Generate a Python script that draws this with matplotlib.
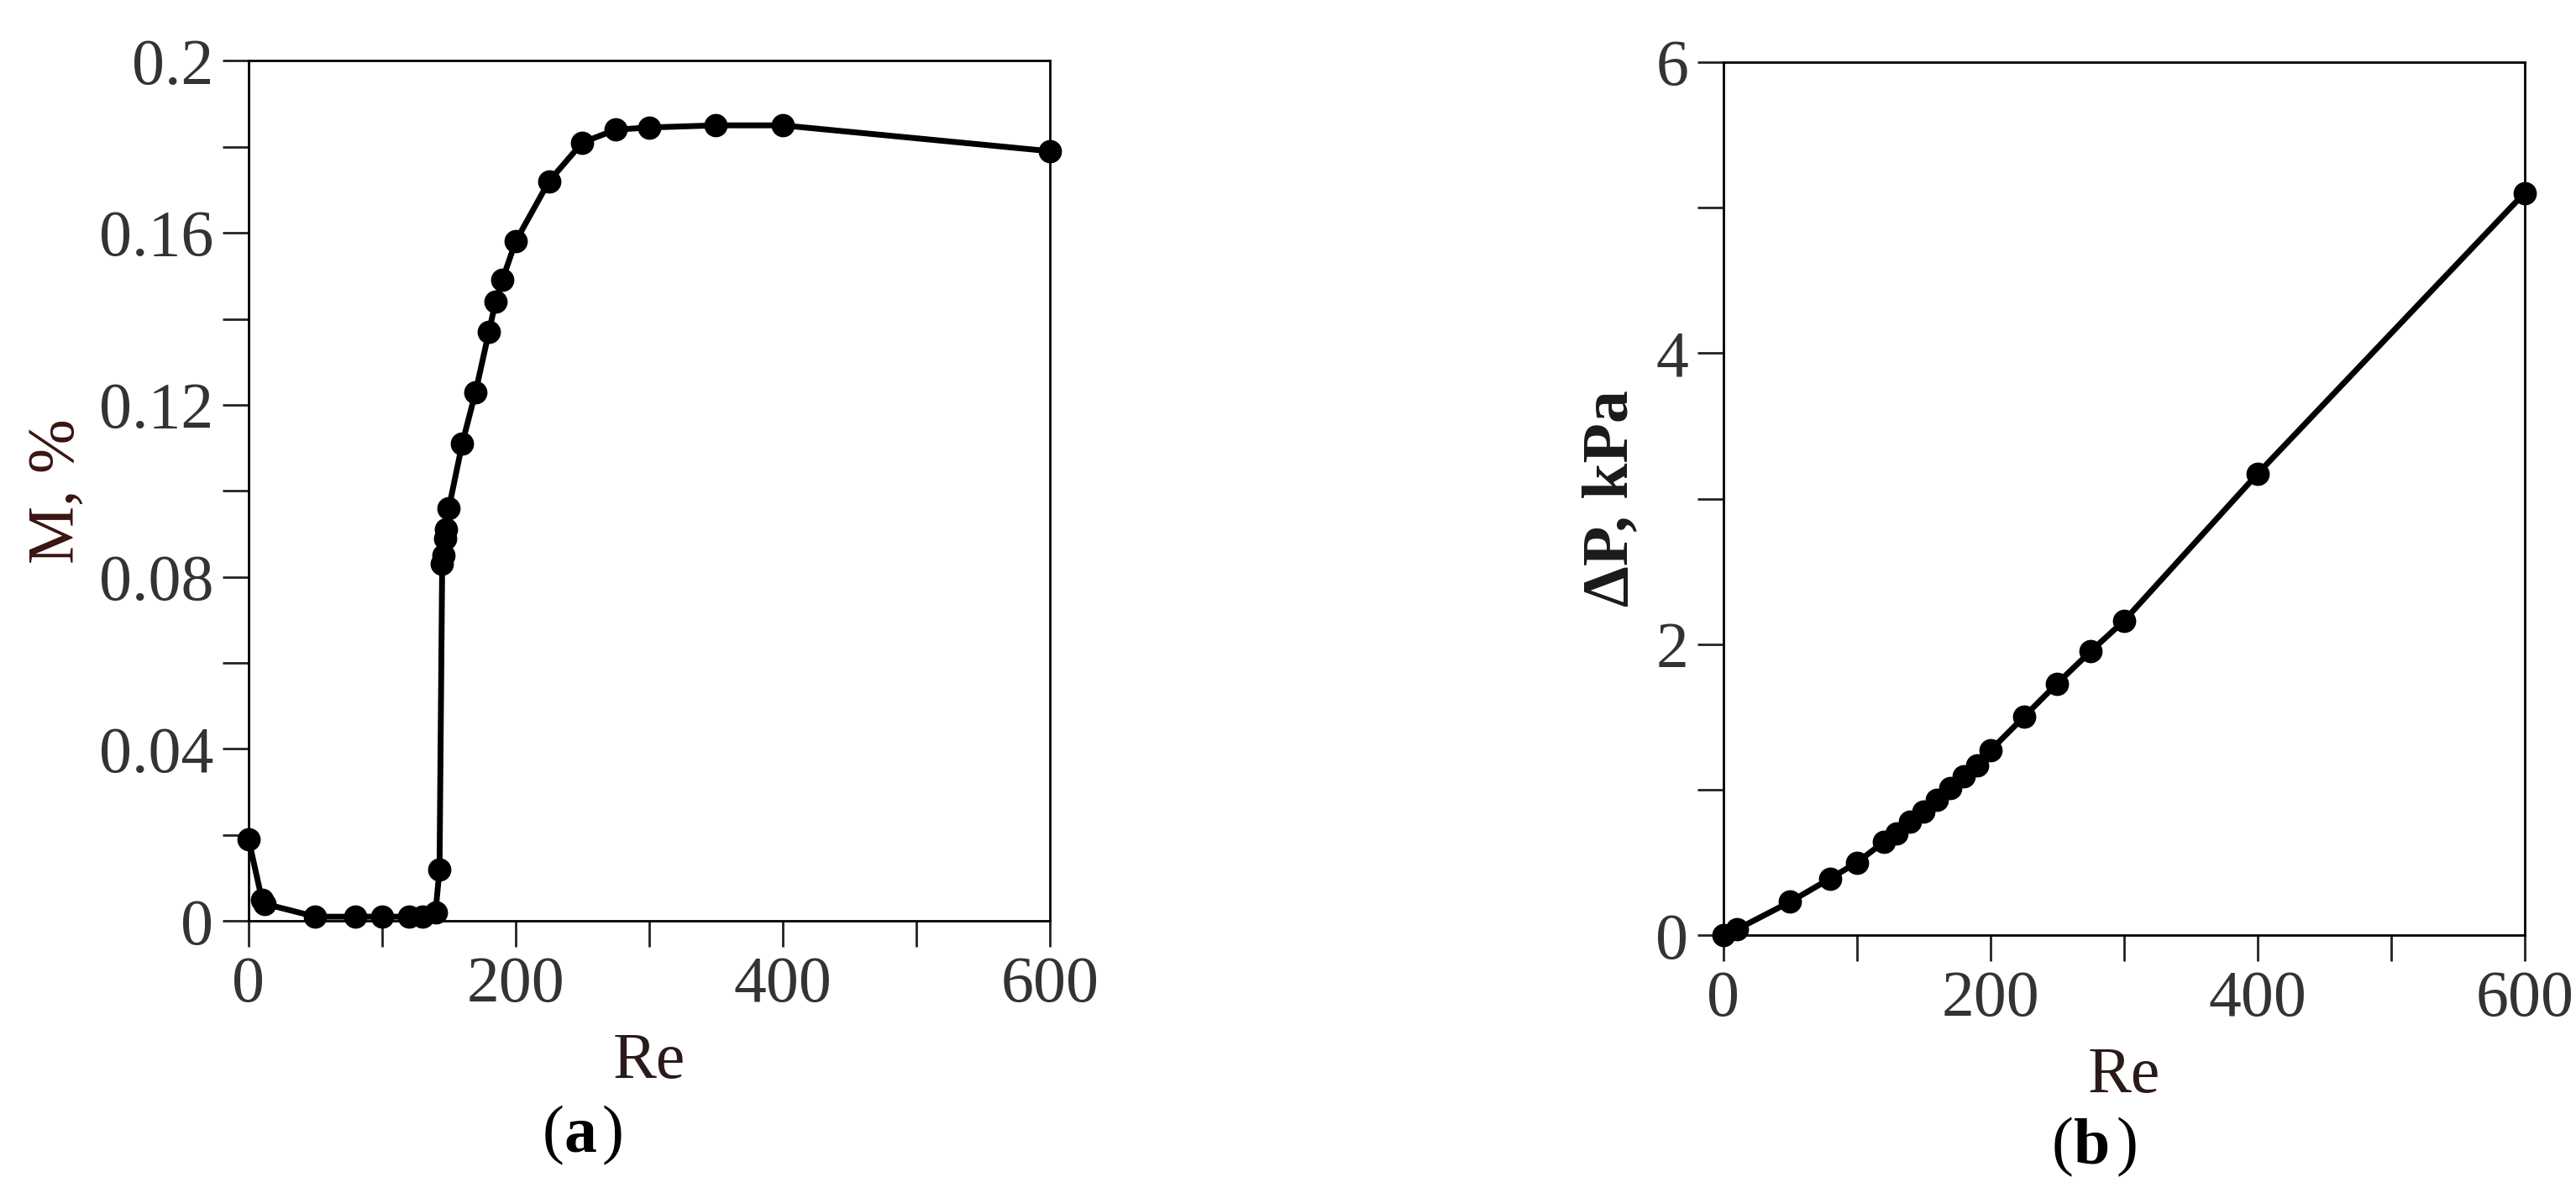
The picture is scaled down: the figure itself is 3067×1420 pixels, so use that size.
import matplotlib
matplotlib.use("Agg")
import matplotlib.pyplot as plt
from matplotlib.ticker import MultipleLocator, FuncFormatter

re_a = [0, 10, 12, 50, 80, 100, 120, 130, 140, 143, 145, 146, 147, 148, 150, 160, 170, 180, 185, 190, 200, 225, 250, 275, 300, 350, 400, 600]
m_a = [0.019, 0.005, 0.004, 0.001, 0.001, 0.001, 0.001, 0.001, 0.002, 0.012, 0.083, 0.085, 0.089, 0.091, 0.096, 0.111, 0.123, 0.137, 0.144, 0.149, 0.158, 0.172, 0.181, 0.184, 0.1845, 0.185, 0.185, 0.179]
re_b = [0, 10, 50, 80, 100, 120, 130, 140, 150, 160, 170, 180, 190, 200, 225, 250, 275, 300, 400, 600]
dp_b = [0, 0.04, 0.23, 0.39, 0.5, 0.64, 0.7, 0.78, 0.85, 0.93, 1.01, 1.09, 1.17, 1.27, 1.5, 1.73, 1.95, 2.16, 3.17, 5.1]

plt.rcParams['font.family'] = ['Liberation Serif', 'DejaVu Serif']
fig = plt.figure(figsize=(30.67, 14.2), dpi=100)
lab = '#2a1a1a'
FS = 56

def setup(ax, ymax, ymaj, ymin):
    ax.set_xlim(0, 600)
    ax.set_ylim(0, ymax)
    ax.xaxis.set_major_locator(MultipleLocator(200))
    ax.xaxis.set_minor_locator(MultipleLocator(100))
    ax.yaxis.set_major_locator(MultipleLocator(ymaj))
    ax.yaxis.set_minor_locator(MultipleLocator(ymin))
    ax.tick_params(which='major', direction='out', length=22, width=2, labelsize=FS, pad=8, colors='#222', labelcolor='#333')
    ax.tick_params(which='minor', direction='out', length=22, width=2, colors='#222')
    for s in ax.spines.values():
        s.set_linewidth(2)
    ax.set_xlabel('Re', fontsize=FS, color=lab, labelpad=14)

ax1 = fig.add_axes([0.0965, 0.228, 0.311, 0.721])
ax1.plot(re_a, m_a, '-o', color='black', lw=5, ms=19, clip_on=False, zorder=5)
setup(ax1, 0.2, 0.04, 0.02)
ax1.yaxis.set_major_formatter(FuncFormatter(lambda v, p: '0' if abs(v) < 1e-9 else ('%g' % round(v, 2))))
ax1.set_ylabel('M, %', fontsize=FS, color='#3a1410', labelpad=10)

ax2 = fig.add_axes([0.669, 0.216, 0.311, 0.732])
ax2.plot(re_b, dp_b, '-o', color='black', lw=5, ms=19, clip_on=False, zorder=5)
setup(ax2, 6, 2, 1)
ax2.set_ylabel('ΔP, kPa', fontsize=FS, color='#1a1a1a', fontweight='bold', labelpad=12)

fig.text(0.219, 0.035, '(', fontsize=FS, ha='right')
fig.text(0.219, 0.035, 'a', fontsize=FS, fontweight='bold', ha='left')
fig.text(0.2335, 0.035, ')', fontsize=FS, ha='left')
fig.text(0.805, 0.025, '(', fontsize=FS, ha='right')
fig.text(0.805, 0.025, 'b', fontsize=FS, fontweight='bold', ha='left')
fig.text(0.8215, 0.025, ')', fontsize=FS, ha='left')

fig.savefig('out.png', dpi=100)
